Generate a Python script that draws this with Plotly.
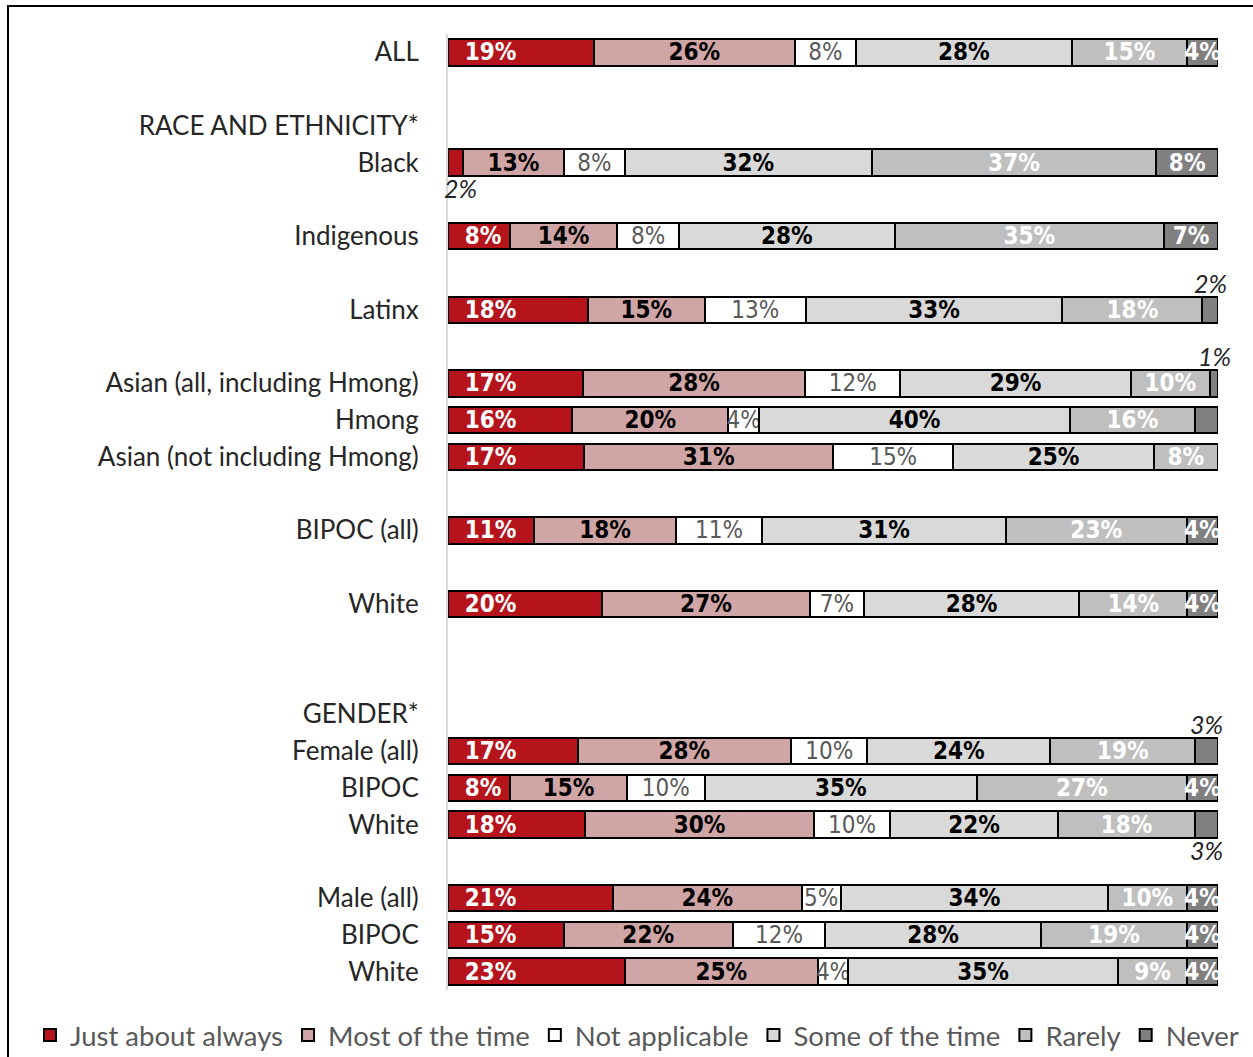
import plotly.graph_objects as go

row_labels = ["ALL", "", "RACE AND ETHNICITY*", "Black", "", "Indigenous", "", "Latinx", "",
              "Asian (all, including Hmong)", "Hmong", "Asian (not including Hmong)", "",
              "BIPOC (all)", "", "White", "", "", "GENDER*", "Female (all)", "BIPOC", "White", "",
              "Male (all)", "BIPOC", "White"]

series_names = ["Just about always", "Most of the time", "Not applicable",
                "Some of the time", "Rarely", "Never"]

N = None
just_about_always = [19, N, N, 2, N, 8, N, 18, N, 17, 16, 17, N, 11, N, 20, N, N, N, 17, 8, 18, N, 21, 15, 23]
most_of_the_time  = [26, N, N, 13, N, 14, N, 15, N, 28, 20, 31, N, 18, N, 27, N, N, N, 28, 15, 30, N, 24, 22, 25]
not_applicable    = [8, N, N, 8, N, 8, N, 13, N, 12, 4, 15, N, 11, N, 7, N, N, N, 10, 10, 10, N, 5, 12, 4]
some_of_the_time  = [28, N, N, 32, N, 28, N, 33, N, 29, 40, 25, N, 31, N, 28, N, N, N, 24, 35, 22, N, 34, 28, 35]
rarely            = [15, N, N, 37, N, 35, N, 18, N, 10, 16, 8, N, 23, N, 14, N, N, N, 19, 27, 18, N, 10, 19, 9]
never             = [4, N, N, 8, N, 7, N, 2, N, 1, 3, 0, N, 4, N, 4, N, N, N, 3, 4, 3, N, 4, 4, 4]

# small segments labelled outside the bar: (row index, series index, side)
outside_labels = [(3, 0, "below"), (7, 5, "above"), (9, 5, "above"), (19, 5, "above"), (21, 5, "below")]

all_series = [just_about_always, most_of_the_time, not_applicable, some_of_the_time, rarely, never]
bar_colors = ["#b5141c", "#d0a5a6", "#ffffff", "#d9d9d9", "#bfbfbf", "#808080"]
text_colors = ["#ffffff", "#000000", "#595959", "#000000", "#ffffff", "#ffffff"]
text_bold = [True, True, False, True, True, True]

LABEL_FONT = "Liberation Sans Narrow, Arial Narrow, DejaVu Sans Condensed, sans-serif"
MAIN_FONT = "Lato, Carlito, Calibri, sans-serif"

fig = go.Figure()
ys = list(range(len(row_labels)))
for si, (name, vals) in enumerate(zip(series_names, all_series)):
    texts = []
    for v in vals:
        if v is None or v <= 3:
            texts.append("")
        else:
            t = f"{v}%"
            if text_bold[si]:
                t = f"<b>{t}</b>"
            if si == 0:
                t = "\u00a0\u00a0" + t
            texts.append(t)
    fig.add_trace(go.Bar(
        name=name, y=ys, x=vals, orientation="h",
        marker=dict(color=bar_colors[si], line=dict(color="#000000", width=2)),
        width=0.72,
        text=texts, textposition="inside", textangle=0,
        insidetextanchor="start" if si == 0 else "middle",
        textfont=dict(family=LABEL_FONT, size=24, color=text_colors[si]),
        hoverinfo="skip",
    ))

# outside annotations for tiny segments
for ri, si, side in outside_labels:
    vals = [s[ri] or 0 for s in all_series]
    total = sum(vals)
    before = sum(vals[:si])
    xc = (before + vals[si] / 2) / total * 100
    fig.add_annotation(
        x=xc, y=ri, xref="x", yref="y", text=f"<i>{vals[si]}%</i>", showarrow=False,
        yshift=27 if side == "above" else -25, xshift=5 if si == 0 else 0,
        font=dict(family=MAIN_FONT, size=25, color="#262626"),
    )

W, H = 1253, 1057
ml, mr, mt, mb = 448, 35, 34, 67
pw, ph = W - ml - mr, H - mt - mb
fig.add_shape(type="rect", xref="paper", yref="paper",
              x0=(8 - ml) / pw, x1=(W + 20 - ml) / pw,
              y0=(H - mb - (H + 20)) / ph, y1=(H - mb - 6) / ph,
              line=dict(color="#000000", width=2), fillcolor="rgba(0,0,0,0)", layer="below")

fig.update_layout(
    width=W, height=H, barmode="stack", barnorm="percent",
    margin=dict(l=ml, r=mr, t=mt, b=mb, autoexpand=False),
    paper_bgcolor="#ffffff", plot_bgcolor="#ffffff",
    uniformtext=dict(minsize=24, mode="show"),
    xaxis=dict(range=[0, 100], visible=False, fixedrange=True),
    yaxis=dict(range=[len(row_labels) - 0.5, -0.5], tickmode="array", tickvals=ys, ticktext=row_labels,
               showline=True, linecolor="#d9d9d9", linewidth=2, showgrid=False, zeroline=False,
               ticks="", ticklabelstandoff=22,
               tickfont=dict(family=MAIN_FONT, size=26, color="#262626")),
    legend=dict(orientation="h", x=(30 - ml) / pw, xanchor="left", y=(H - mb - 1035) / ph, yanchor="middle",
                font=dict(family=MAIN_FONT, size=27.5, color="#595959"), traceorder="normal",
                bgcolor="rgba(0,0,0,0)"),
    showlegend=True,
)

fig.write_html("out.html")
